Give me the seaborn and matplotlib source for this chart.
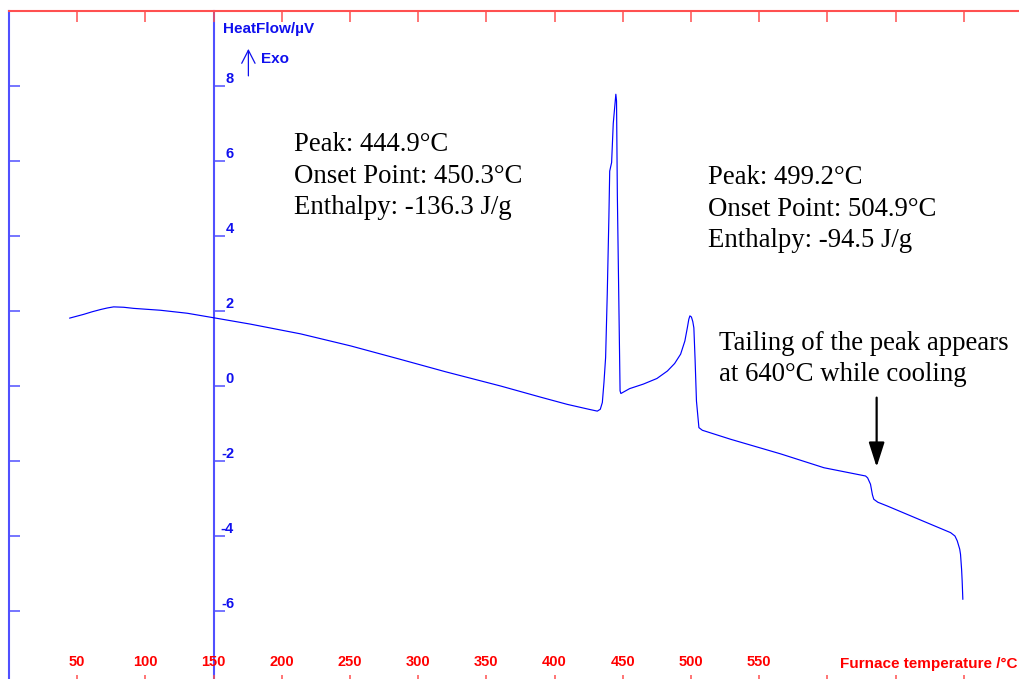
import matplotlib
matplotlib.use("Agg")
import matplotlib.pyplot as plt
import seaborn as sns
import pandas as pd

# DSC heating trace: furnace temperature (°C) vs heat flow (µV)
temperature_c = [
    44.4, 54.7, 61.0, 67.2, 72.0, 76.7, 84.0, 91.4, 111.0, 130.7,
    150.0, 177.0, 213.8, 250.4, 287.0, 320.0, 360.4, 390.0, 409.3, 425.0,
    431.3, 433.5, 435.0, 436.2, 437.4, 438.6, 439.8, 440.4, 441.8, 443.0,
    444.9, 445.4, 446.0, 447.0, 448.0, 448.6, 455.0, 465.0, 475.0, 482.7,
    488.0, 492.4, 495.5, 497.3, 498.4, 499.2, 500.3, 501.3, 502.1, 503.0,
    504.0, 505.8, 508.3, 529.0, 565.7, 597.5, 628.0, 629.5, 631.6, 633.0,
    634.0, 637.0, 643.9, 670.0, 690.3, 693.5, 695.2, 697.0, 697.6, 698.4,
    698.8, 699.3,
]
heat_flow_uv = [
    1.81, 1.91, 1.98, 2.04, 2.08, 2.11, 2.10, 2.07, 2.02, 1.94,
    1.82, 1.65, 1.39, 1.07, 0.71, 0.38, 0.00, -0.30, -0.49, -0.62,
    -0.67, -0.62, -0.44, 0.10, 0.76, 2.45, 4.50, 5.73, 5.96, 7.00,
    7.78, 7.60, 5.10, 2.50, -0.13, -0.20, -0.07, 0.05, 0.20, 0.40,
    0.60, 0.85, 1.20, 1.55, 1.78, 1.87, 1.84, 1.72, 1.55, 0.70,
    -0.40, -1.11, -1.18, -1.42, -1.81, -2.18, -2.40, -2.45, -2.62, -2.90,
    -3.02, -3.10, -3.20, -3.60, -3.91, -4.00, -4.13, -4.35, -4.49, -4.90,
    -5.20, -5.69,
]

x_ticks = [50, 100, 150, 200, 250, 300, 350, 400, 450, 500, 550, 600, 650, 700]
x_tick_labels = ["50", "100", "150", "200", "250", "300", "350", "400",
                 "450", "500", "550", "", "", ""]
y_ticks = [-6, -4, -2, 0, 2, 4, 6, 8]
y_tick_labels = ["-6", "-4", "-2", "0", "2", "4", "6", "8"]

x_label = "Furnace temperature /°C"
y_label = "HeatFlow/µV"
exo_label = "Exo"

peak1_text = ["Peak: 444.9°C", "Onset Point: 450.3°C", "Enthalpy: -136.3 J/g"]
peak2_text = ["Peak: 499.2°C", "Onset Point: 504.9°C", "Enthalpy: -94.5 J/g"]
tail_text = ["Tailing of the peak appears", "at 640°C while cooling"]

RED_LINE = "#ff5050"
RED_TXT = "#ff0000"
BLUE_LINE = "#5050ff"
BLUE_TXT = "#1010ee"
CURVE = "#0000ff"

sns.set_style("white")
plt.rcParams["font.family"] = ["Liberation Sans", "DejaVu Sans"]
plt.rcParams["axes.unicode_minus"] = False

W, H = 1019, 679
fig = plt.figure(figsize=(W / 100, H / 100), dpi=100)
ax = fig.add_axes([9 / W, (H - 686) / H, 1010 / W, 675 / H])
ax.set_facecolor("white")

df = pd.DataFrame({"temperature": temperature_c, "heat_flow": heat_flow_uv})
sns.lineplot(data=df, x="temperature", y="heat_flow", ax=ax, color=CURVE,
             linewidth=0.85, sort=False, estimator=None)
ax.set_xlabel("")
ax.set_ylabel("")
ax.set_xlim(0, 1010 / 1.364)
ax.set_ylim(-8, 10)

# frame: blue left edge, red top edge
for side in ("right", "bottom"):
    ax.spines[side].set_visible(False)
ax.spines["left"].set_color(BLUE_LINE)
ax.spines["left"].set_linewidth(1.5)
ax.spines["top"].set_color(RED_LINE)
ax.spines["top"].set_linewidth(1.5)

# temperature axis: ticks on top and bottom, labels inside along the bottom
ax.set_xticks(x_ticks, x_tick_labels)
ax.tick_params(axis="x", top=True, bottom=True, labeltop=False, labelbottom=True,
               direction="in", length=7.6, width=1.1, color=RED_LINE,
               labelcolor=RED_TXT, labelsize=10.5, pad=-22)
for lab in ax.get_xticklabels():
    lab.set_fontweight("bold")

# left edge carries unlabeled ticks
ax.set_yticks(y_ticks)
ax.tick_params(axis="y", left=True, right=False, labelleft=False,
               direction="in", length=7.9, width=1.1, color=BLUE_LINE)

# heat-flow axis drawn at 150 °C with its labels
sec = ax.secondary_yaxis(150, transform=ax.transData)
sec.set_alignment("right")
sec.spines["right"].set_color(BLUE_LINE)
sec.spines["right"].set_linewidth(1.5)
sec.set_yticks(y_ticks, y_tick_labels)
sec.tick_params(axis="y", direction="out", length=7.9, width=1.1, color=BLUE_LINE,
                labelcolor=BLUE_TXT, labelsize=10.5, pad=6.8)
for lab in sec.get_yticklabels():
    lab.set_fontweight("bold")
    lab.set_horizontalalignment("right")
    lab.set_verticalalignment("bottom")

# axis titles
ax.text(156.6, 9.52, y_label, color=BLUE_TXT, fontsize=11, fontweight="bold",
        ha="left", va="center")
ax.text(185.1, 8.72, exo_label, color=BLUE_TXT, fontsize=11, fontweight="bold",
        ha="left", va="center")
ax.annotate("", xy=(175.5, 8.99), xytext=(175.5, 8.27),
            arrowprops=dict(arrowstyle="->,head_length=0.94,head_width=0.48",
                            color=BLUE_TXT, lw=0.9, shrinkA=0, shrinkB=0,
                            mutation_scale=10))
ax.text(739.4, -7.53, x_label, color=RED_TXT, fontsize=11, fontweight="bold",
        ha="right", va="baseline")

# peak annotations (anchored at the baseline of the last line)
serif = ["Liberation Serif", "DejaVu Serif"]
note_style = dict(family=serif, fontsize=19.3, color="black", ha="left",
                  va="baseline", linespacing=1.33)
ax.text(208.7, 4.59, "\n".join(peak1_text), **note_style)
ax.text(512.2, 3.71, "\n".join(peak2_text), **note_style)
ax.text(520.2, 0.13, "\n".join(tail_text), **note_style)

# arrow pointing at the cooling-tail step
ax.annotate("", xy=(636.1, -2.16), xytext=(636.1, -0.31),
            arrowprops=dict(arrowstyle="-|>,head_length=1.5,head_width=0.48",
                            color="black", lw=1.6, shrinkA=0, shrinkB=0,
                            mutation_scale=10))

fig.savefig("out.png", dpi=100)
